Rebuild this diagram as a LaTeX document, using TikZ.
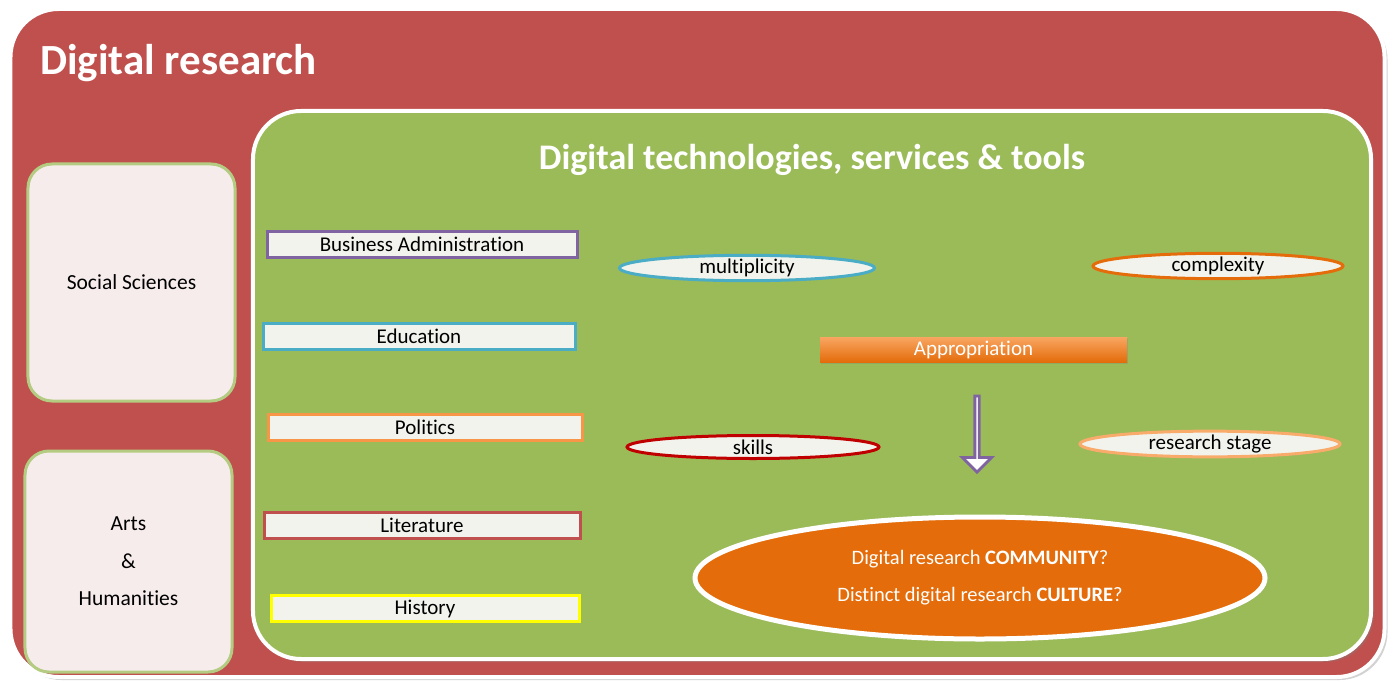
\documentclass[tikz,border=0pt]{standalone}
\usepackage{fontspec}
\setmainfont{Carlito}[Ligatures=NoCommon]
\usetikzlibrary{shapes.geometric,shapes.arrows,shadows}
\definecolor{dred}{HTML}{C0504D}
\definecolor{dgreen}{HTML}{9BBB59}
\definecolor{boxpink}{HTML}{F7ECEC}
\definecolor{barfill}{HTML}{F3F3EE}
\definecolor{cpurple}{HTML}{8064A2}
\definecolor{cblue}{HTML}{4BACC6}
\definecolor{corange}{HTML}{F79646}
\definecolor{cdorange}{HTML}{E46C0A}
\definecolor{cdarkred}{HTML}{C00000}
\definecolor{cyellow}{HTML}{FFFF00}
\tikzset{
  panel/.style={draw=white, line width=4bp, rounded corners=48bp, inner sep=0pt,
    drop shadow={opacity=0.35, shadow xshift=3bp, shadow yshift=-3bp}},
  sidebox/.style={draw=dgreen!75!white, line width=3bp, fill=boxpink, rounded corners=24bp,
    inner sep=0pt, minimum width=207bp, align=center, text=black,
    font=\fontsize{21.5bp}{37.5bp}\selectfont},
  bar/.style={draw=#1, line width=3bp, fill=barfill, inner sep=0pt, minimum height=26bp,
    text=black, font=\fontsize{21bp}{22bp}\selectfont},
  oval/.style={ellipse, draw=#1, line width=3bp, fill=barfill, inner sep=0pt,
    minimum height=23bp, text=black, font=\fontsize{21bp}{22bp}\selectfont},
}
\begin{document}
\begin{tikzpicture}[x=1bp,y=-1bp]
\useasboundingbox (0,0) rectangle (1394,683);
\fill[white] (0,0) rectangle (1394,683);
% outer panel
\node (outer) [panel, fill=dred, minimum width=1374bp, minimum height=668bp] at (697.5,343) {};
\node (title) [anchor=west, text=white, font=\fontsize{43bp}{48bp}\selectfont\bfseries, inner sep=0pt] at (40,63) {Digital research};
% green panel
\node (inner) [panel, fill=dgreen, minimum width=1118bp, minimum height=548bp] at (812,385) {};
\node (title2) [text=white, font=\fontsize{36bp}{40bp}\selectfont\bfseries, inner sep=0pt] at (812,160) {Digital technologies, services \& tools};
% side boxes
\node (soc) [sidebox, minimum height=237bp] at (131.5,282.5) {Social Sciences};
\node (arts) [sidebox, minimum height=221bp] at (128.5,561.5) {Arts\\\&\\Humanities};
% bars
\node (ba) [bar=cpurple, minimum width=310bp] at (422,244.5) {Business Administration};
\node (edu) [bar=cblue, minimum width=312bp] at (419,336.5) {Education};
\node (pol) [bar=corange, minimum width=314bp] at (425,427) {Politics};
\node (lit) [bar=dred, minimum width=316bp] at (422,525) {Literature};
\node (hist) [bar=cyellow, minimum width=308bp] at (425,608.5) {History};
% ovals
\node (mult) [oval=cblue, minimum width=255bp] at (747,268) {multiplicity};
\node (comp) [oval=cdorange, minimum width=250bp] at (1218,266) {complexity};
\node (skills) [oval=cdarkred, minimum width=252bp] at (753,447) {skills};
\node (stage) [oval=corange!80!white, minimum width=260bp, minimum height=21bp] at (1210,444) {research stage};
% appropriation
\node (appr) [top color=corange!85!white, bottom color=cdorange, minimum width=307bp, minimum height=25bp,
  inner sep=0pt, text=white, font=\fontsize{21bp}{22bp}\selectfont,
  drop shadow={opacity=0.3, shadow xshift=1bp, shadow yshift=-2bp}] at (973.5,349.5) {Appropriation};
% arrow
\node (arrow) [single arrow, draw=cpurple, line width=2.8bp, fill=white, shape border rotate=270,
  minimum height=76bp, minimum width=29bp, single arrow head extend=8bp, single arrow head indent=0pt,
  inner sep=0pt] at (977,433) {};
% big ellipse
\node (comm) [ellipse, draw=white, line width=5bp, fill=cdorange, minimum width=570bp, minimum height=122bp,
  inner sep=0pt, align=center, text=white, font=\fontsize{20.5bp}{37bp}\selectfont,
  drop shadow={opacity=0.3, shadow xshift=2bp, shadow yshift=-2bp}] at (980,578)
  {Digital research \textbf{COMMUNITY}?\\Distinct digital research \textbf{CULTURE}?};
\end{tikzpicture}
\end{document}
